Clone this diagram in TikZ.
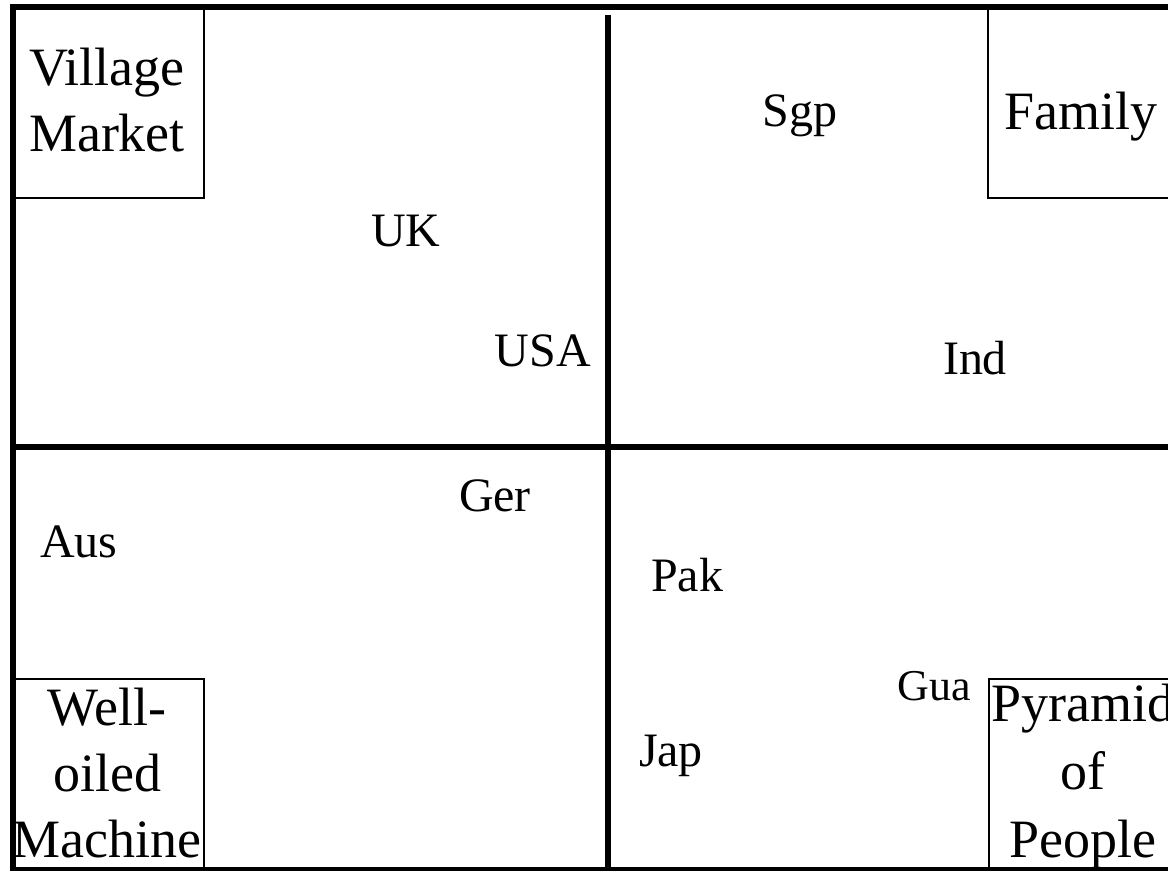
\documentclass[tikz,border=0pt]{standalone}
\usepackage{fontspec}
\setmainfont{Liberation Serif}
\begin{document}
\begin{tikzpicture}[x=0.5pt,y=-0.5pt,
  frameline/.style={line width=3pt},
  boxline/.style={line width=1pt},
  boxlabel/.style={font=\fontsize{27}{33}\selectfont, align=center, inner sep=0pt, anchor=base},
  country/.style={font=\fontsize{24}{28}\selectfont, inner sep=0pt, anchor=base},
  smallcountry/.style={font=\fontsize{22}{26}\selectfont, inner sep=0pt, anchor=base}]
\useasboundingbox (0,0) rectangle (1168,871);
\begin{scope}
\clip (0,0) rectangle (1168,871);
% corner boxes
\draw[boxline] (13,7) rectangle (204,198);
\draw[boxline] (988,7) rectangle (1190,198);
\draw[boxline] (13,679) rectangle (204,890);
\draw[boxline] (989,679) rectangle (1190,890);
% outer frame and quadrant dividers
\draw[frameline] (1190,7) -- (13,7) -- (13,870) -- (1190,870);
\draw[frameline] (608,15) -- (608,890);
\draw[frameline] (13,447) -- (1190,447);
\end{scope}
% corner labels (anchored at the baseline of their last line)
\node[boxlabel] (village) at (107,152) {Village\\Market};
\node[boxlabel] (family) at (1081,130) {Family};
\node[boxlabel] (machine) at (107,857) {Well-\\oiled\\Machine};
\node[boxlabel] (pyramid) at (1083,857) {Pyramid\\[1pt]of\\[1pt]People};
% countries
\node[country] (uk) at (406,247) {UK};
\node[country] (usa) at (543,367) {USA};
\node[country] (sgp) at (800,127) {Sgp};
\node[country] (ind) at (975,375) {Ind};
\node[country] (ger) at (495,512) {Ger};
\node[country] (aus) at (79,558) {Aus};
\node[country] (pak) at (687,591) {Pak};
\node[country] (jap) at (671,766) {Jap};
\node[smallcountry] (gua) at (934,700) {Gua};
\end{tikzpicture}
\end{document}
